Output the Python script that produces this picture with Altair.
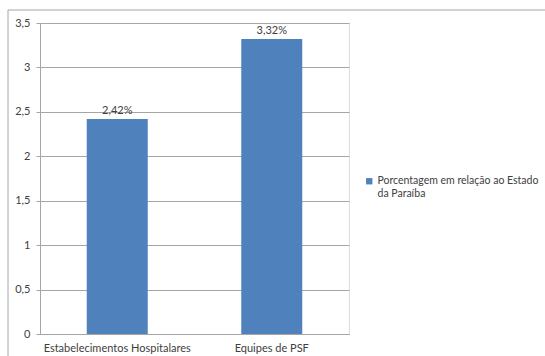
import altair as alt
import pandas as pd

categories = ["Estabelecimentos Hospitalares", "Equipes de PSF"]
values = [2.42, 3.32]
series = "Porcentagem em relação ao Estado da Paraíba"

df = pd.DataFrame({"cat": categories, "v": values, "serie": [series] * 2})

FONT = "Lato"
BLUE = "#4f81bd"
TXT = "#404040"

base = alt.Chart(df)

X = alt.X("cat:N", sort=categories, title=None,
          scale=alt.Scale(paddingInner=0.6, paddingOuter=0.3),
          axis=alt.Axis(labelAngle=0, labelFont=FONT, labelFontSize=11, labelColor=TXT,
                        domainColor="#a6a6a6", ticks=False,
                        labelPadding=8, grid=False))
Y = alt.Y("v:Q", title=None,
          scale=alt.Scale(domain=[0, 3.5], nice=False),
          axis=alt.Axis(values=[0, 0.5, 1, 1.5, 2, 2.5, 3, 3.5],
                        labelExpr="replace(toString(datum.value), '.', ',')",
                        labelFont=FONT, labelFontSize=11, labelColor=TXT,
                        domainColor="#a6a6a6", tickColor="#a6a6a6", tickSize=4,
                        gridColor="#a6a6a6", labelPadding=6))

frame = pd.DataFrame({"a": [0]})
top_edge = alt.Chart(frame).mark_rule(color="#a6a6a6", strokeWidth=1, clip=False).encode(
    x=alt.value(-32), x2=alt.value(560), y=alt.value(-13))
left_edge = alt.Chart(frame).mark_rule(color="#a6a6a6", strokeWidth=1, clip=False).encode(
    x=alt.value(-32), y=alt.value(-13), y2=alt.value(400))

bars = base.mark_bar(size=61).encode(
    x=X, y=Y,
    color=alt.Color("serie:N", scale=alt.Scale(range=[BLUE]), title=None,
                    legend=alt.Legend(orient="none", legendX=324, legendY=153,
                                      symbolType="square", symbolSize=40,
                                      labelFont=FONT, labelFontSize=10.5, labelColor=TXT,
                                      labelExpr="['Porcentagem em relação ao Estado', 'da Paraíba']",
                                      labelLimit=300, labelOffset=3)),
)

labels = base.transform_calculate(
    lab="replace(format(datum.v, '.2f'), '.', ',') + '%'"
).mark_text(dy=-8, font=FONT, fontSize=11, color=TXT).encode(
    x=X, y=Y, text="lab:N",
)

chart = alt.layer(top_edge, left_edge, bars, labels).properties(
    width=309, height=311,
    autosize=alt.AutoSizeParams(type="none"),
    padding={"left": 40, "top": 23, "right": 196, "bottom": 22},
).configure_view(strokeWidth=0, stroke="transparent").configure(background="white")

chart.save("out.html", embed_options={"renderer": "svg", "actions": False})
